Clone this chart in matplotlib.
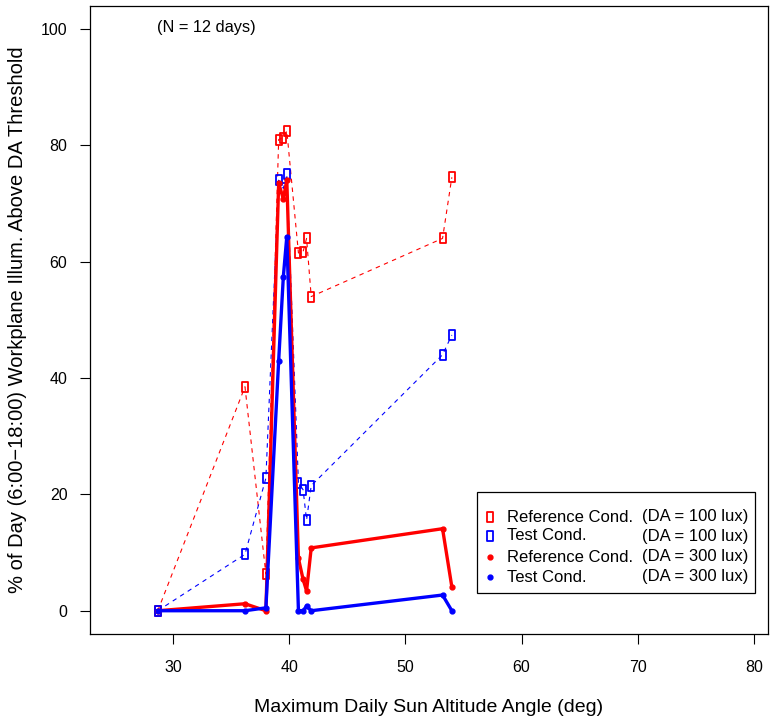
import matplotlib
matplotlib.use("Agg")
import matplotlib.pyplot as plt
from matplotlib.path import Path
from matplotlib.patches import Rectangle

plt.rcParams["font.family"] = ["Liberation Sans", "DejaVu Sans"]

# Maximum daily sun altitude (deg), one value per day
sun_alt = [28.7, 36.2, 38.0, 39.1, 39.5, 39.8, 40.8, 41.2, 41.5, 41.9, 53.2, 54.0]

# % of day above DA threshold
ref_100 = [0.0, 38.5, 6.3, 81.0, 81.3, 82.5, 61.5, 61.7, 64.0, 54.0, 64.0, 74.5]
test_100 = [0.0, 9.7, 22.8, 74.0, 72.6, 75.0, 22.0, 20.8, 15.6, 21.5, 44.0, 47.4]
ref_300 = [0.0, 1.2, 0.0, 73.5, 70.8, 74.0, 9.0, 5.4, 3.4, 10.8, 14.1, 4.1]
test_300 = [0.0, 0.0, 0.5, 43.0, 57.4, 64.3, 0.0, 0.0, 0.8, 0.0, 2.7, 0.0]

x_ticks = [30, 40, 50, 60, 70, 80]
y_ticks = [0, 20, 40, 60, 80, 100]

RED = "#ff0000"
BLUE = "#0000ff"

# narrow open box, like R's pch = "0"
box_marker = Path([(-0.28, -0.5), (0.28, -0.5), (0.28, 0.5), (-0.28, 0.5), (-0.28, -0.5)],
                  [Path.MOVETO, Path.LINETO, Path.LINETO, Path.LINETO, Path.CLOSEPOLY])
BOX_MS = 7.5

W, H = 770, 723
fig = plt.figure(figsize=(W / 100, H / 100), dpi=100)
ax = fig.add_axes([89.7 / W, 1 - 634 / H, (767.5 - 89.7) / W, (634 - 5.7) / H])

ax.plot(sun_alt, ref_100, color=RED, lw=0.8, dashes=(4, 4), marker=box_marker,
        ms=BOX_MS, mfc="none", mec=RED, mew=1.3)
ax.plot(sun_alt, test_100, color=BLUE, lw=0.8, dashes=(4, 4), marker=box_marker,
        ms=BOX_MS, mfc="none", mec=BLUE, mew=1.3)
ax.plot(sun_alt, ref_300, color=RED, lw=2.4, marker="o", ms=3.5, mfc=RED, mec=RED)
ax.plot(sun_alt, test_300, color=BLUE, lw=2.4, marker="o", ms=3.5, mfc=BLUE, mec=BLUE)

ax.set_xlim(22.84, 81.16)
ax.set_ylim(-4, 104)
ax.set_xticks(x_ticks)
ax.set_yticks(y_ticks)
ax.tick_params(direction="out", length=7, width=0.8, labelsize=11.5)
ax.tick_params(axis="x", pad=12)
ax.tick_params(axis="y", pad=9)
for s in ax.spines.values():
    s.set_linewidth(0.9)

ax.set_xlabel("Maximum Daily Sun Altitude Angle (deg)", fontsize=14, labelpad=17)
ax.set_ylabel("% of Day (6:00\u221218:00) Workplane Illum. Above DA Threshold",
              fontsize=14.5, labelpad=10)

ax.text(32.9, 100.3, "(N = 12 days)", ha="center", va="center", fontsize=11.8)


# manual legend, positioned in pixels
def px(x, y):
    return x / W, 1 - y / H


x0, y0 = px(477, 593)
x1, y1 = px(755, 492)
fig.patches.append(Rectangle((x0, y0), x1 - x0, y1 - y0, transform=fig.transFigure,
                             fill=False, edgecolor="black", lw=0.9))

rows = [
    ("Reference Cond.", "(DA = 100 lux)", RED, "box", 517),
    ("Test Cond.", "(DA = 100 lux)", BLUE, "box", 536),
    ("Reference Cond.", "(DA = 300 lux)", RED, "dot", 557),
    ("Test Cond.", "(DA = 300 lux)", BLUE, "dot", 577),
]
for name, da, col, kind, yp in rows:
    mx, my = px(490, yp)
    if kind == "box":
        fig.add_artist(plt.Line2D([mx], [my], transform=fig.transFigure, ls="none",
                                  marker=box_marker, ms=BOX_MS, mfc="none", mec=col, mew=1.3))
    else:
        fig.add_artist(plt.Line2D([mx], [my], transform=fig.transFigure, ls="none",
                                  marker="o", ms=3.5, mfc=col, mec=col))
    tx, ty = px(507, yp)
    fig.text(tx, ty, name, ha="left", va="center", fontsize=12)
    rx, _ = px(748, yp)
    fig.text(rx, ty, da, ha="right", va="center", fontsize=12)

fig.savefig("out.png", dpi=100)
